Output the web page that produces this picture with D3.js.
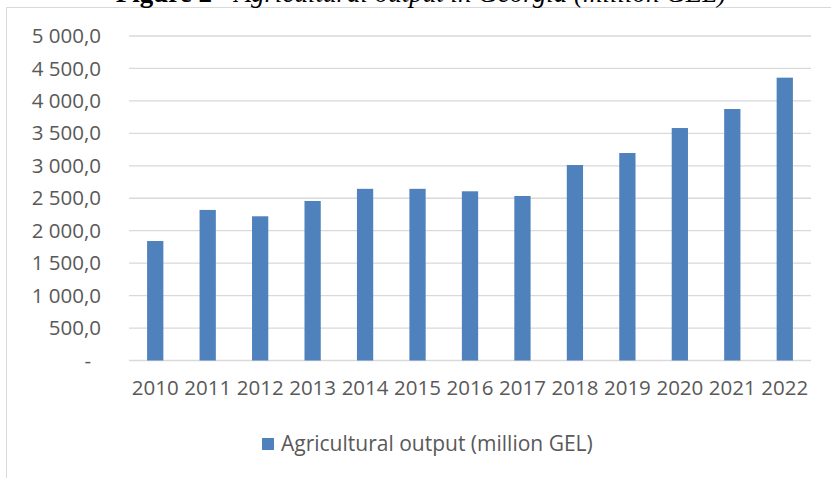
<!DOCTYPE html>
<html>
<head>
<meta charset="utf-8">
<script src="https://cdn.jsdelivr.net/npm/d3@7"></script>
<style>
  html, body { margin: 0; padding: 0; background: #fff; }
  svg { display: block; }
</style>
</head>
<body>
<div id="chart"></div>
<script>
const years = ["2010","2011","2012","2013","2014","2015","2016","2017","2018","2019","2020","2021","2022"];
const outputValues = [1841, 2320, 2222, 2458, 2645, 2645, 2607, 2535, 3012, 3197, 3582, 3875, 4358];
const yTickValues = [0, 500, 1000, 1500, 2000, 2500, 3000, 3500, 4000, 4500, 5000];
const yTickLabels = ["-", "500,0", "1 000,0", "1 500,0", "2 000,0", "2 500,0", "3 000,0", "3 500,0", "4 000,0", "4 500,0", "5 000,0"];
const seriesName = "Agricultural output (million GEL)";
const titleBold = "Figure 2 - ";
const titleItalic = "Agricultural output in Georgia (million GEL)";

const W = 831, H = 478;
const margin = {left: 129, right: 20, top: 36, bottom: 117.5};
const plotW = W - margin.left - margin.right;
const plotH = H - margin.top - margin.bottom;

const svg = d3.select("#chart").append("svg").attr("width", W).attr("height", H);

// Chart frame
svg.append("rect").attr("x", 6.5).attr("y", 7.5).attr("width", 900).attr("height", 600)
  .attr("fill", "#fff").attr("stroke", "#d9d9d9").attr("stroke-width", 1);

// Title (partially cut off at the top, as in the reference)
const title = svg.append("text").attr("x", 421).attr("y", 1.5)
  .attr("text-anchor", "middle")
  .attr("font-family", "'Liberation Serif', 'Times New Roman', serif")
  .attr("font-size", 27).attr("fill", "#000");
title.append("tspan").attr("font-weight", "bold").text(titleBold);
title.append("tspan").attr("font-style", "italic").text(titleItalic);

const g = svg.append("g").attr("transform", `translate(${margin.left},${margin.top})`);

const x = d3.scaleBand().domain(years).range([0, plotW]).paddingInner(0.69).paddingOuter(0.345);
const y = d3.scaleLinear().domain([0, 5000]).range([plotH, 0]);

// Gridlines
g.append("g").selectAll("line").data(yTickValues).join("line")
  .attr("x1", 0).attr("x2", plotW)
  .attr("y1", d => y(d)).attr("y2", d => y(d))
  .attr("stroke", "#d9d9d9").attr("stroke-width", 1.3);

// Y axis labels
const yAxis = d3.axisLeft(y).tickValues(yTickValues)
  .tickFormat((d, i) => yTickLabels[i]).tickSize(0).tickPadding(28);
const ya = g.append("g").call(yAxis);
ya.select(".domain").remove();
ya.selectAll("text")
  .attr("font-family", "'Open Sans', sans-serif").attr("font-size", 20.5).attr("fill", "#595959")
  .attr("dx", d => d === 0 ? -10 : 0);

// Bars
g.append("g").selectAll("rect").data(outputValues).join("rect")
  .attr("x", (d, i) => x(years[i]))
  .attr("width", x.bandwidth())
  .attr("y", d => y(d))
  .attr("height", d => plotH - y(d))
  .attr("fill", "#4f81bd");

// X axis
const xAxis = d3.axisBottom(x).tickSize(0).tickPadding(20);
const xa = g.append("g").attr("transform", `translate(0,${plotH})`).call(xAxis);
xa.select(".domain").remove();
xa.selectAll("text")
  .attr("font-family", "'Open Sans', sans-serif").attr("font-size", 20.5).attr("fill", "#595959");

// Legend
const lg = svg.append("g").attr("transform", "translate(262,438)");
lg.append("rect").attr("width", 12).attr("height", 12).attr("fill", "#4f81bd");
lg.append("text").attr("x", 19).attr("y", 6).attr("dy", "0.35em")
  .attr("font-family", "'Open Sans', sans-serif").attr("font-size", 21).attr("fill", "#595959")
  .text(seriesName);
</script>
</body>
</html>
